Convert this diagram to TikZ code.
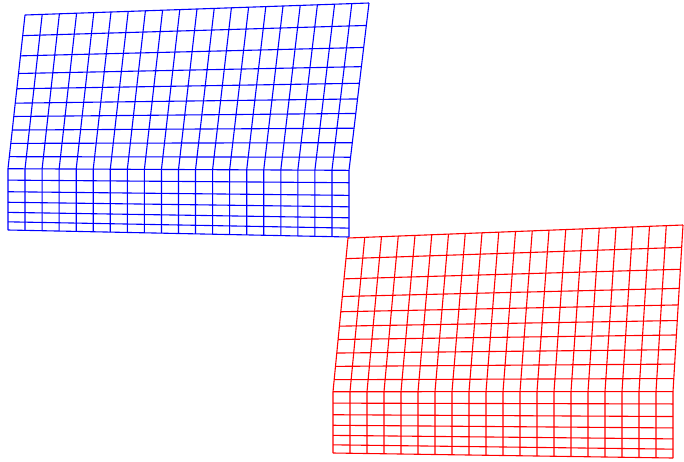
\documentclass[tikz,border=0pt]{standalone}
\usepackage{tikz}

\begin{document}
\begin{tikzpicture}[x=1pt, y=-1pt, line width=1.1pt, line join=round,
  meshline/.style={draw=#1}]
  \useasboundingbox (0,0) rectangle (684,461);
  \foreach \col/\ax/\ay/\bx/\by/\cx/\cy/\dx/\dy in
    {blue/25/15/369/3/8/230/349/237, red/348/238/683/225/333/453/673/458}{
    \foreach \r in {0,.096,.19,.272,.343,.41,.472,.535,.597,.659,.715,.768,.822,.871,.918,.962,1}{
      \pgfmathsetmacro\s{min(\r/0.715,1)}
      \pgfmathsetmacro\xa{\ax+(\cx-\ax)*\s}
      \pgfmathsetmacro\xb{\bx+(\dx-\bx)*\s}
      \pgfmathsetmacro\ya{\ay+(\cy-\ay)*\r}
      \pgfmathsetmacro\yb{\by+(\dy-\by)*\r}
      \draw[meshline=\col] (\xa,\ya) -- (\xb,\yb);
    }
    \foreach \c in {0,...,20}{
      \pgfmathsetmacro\t{\c/20}
      \pgfmathsetmacro\xt{\ax+(\bx-\ax)*\t}
      \pgfmathsetmacro\yt{\ay+(\by-\ay)*\t}
      \pgfmathsetmacro\xm{\cx+(\dx-\cx)*\t}
      \pgfmathsetmacro\yl{\cy+(\dy-\cy)*\t}
      \pgfmathsetmacro\ym{\yt+(\yl-\yt)*0.715}
      \draw[meshline=\col] (\xt,\yt) -- (\xm,\ym) -- (\xm,\yl);
    }
  }
\end{tikzpicture}
\end{document}
